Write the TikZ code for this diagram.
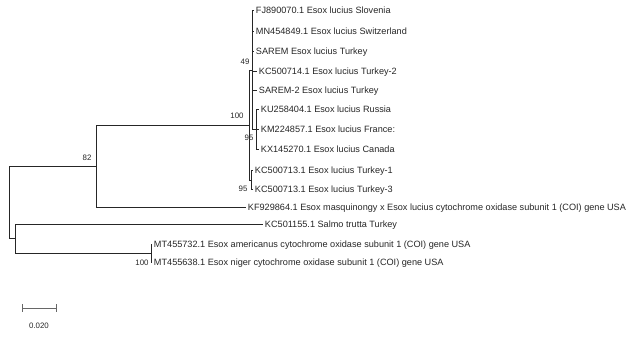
\documentclass[tikz,border=0pt]{standalone}
\usepackage{fontspec}
\setsansfont{Liberation Sans}
\usetikzlibrary{arrows.meta}
\definecolor{ink}{HTML}{262626}

\begin{document}
\begin{tikzpicture}[x=0.025cm,y=-0.025cm,font=\sffamily\fontsize{6.5}{7.5}\selectfont,text=ink,
  branch/.style={draw=ink,line width=.6pt},
  leaf/.style={anchor=mid west,inner sep=1.2pt},
  boot/.style={font=\sffamily\fontsize{5.6}{6.5}\selectfont,inner sep=0pt}]
  \useasboundingbox (0,0) rectangle (636,340);
  % inner nodes of the tree
  \coordinate (root) at (9,202);
  \coordinate (n82) at (96,166);
  \coordinate (n100) at (249,125);
  \coordinate (n49) at (252,70);
  \coordinate (nK) at (256,129);
  \coordinate (nT) at (251,180);
  \coordinate (nO) at (15,238);
  \coordinate (nMT) at (151,253);
  % leaves
  \node[leaf] (fj) at (254,10) {FJ890070.1 Esox lucius Slovenia};
  \node[leaf] (mn) at (254,31) {MN454849.1 Esox lucius Switzerland};
  \node[leaf] (sarem) at (254,51) {SAREM Esox lucius Turkey};
  \node[leaf] (kc14) at (257,71) {KC500714.1 Esox lucius Turkey-2};
  \node[leaf] (sarem2) at (257,90) {SAREM-2 Esox lucius Turkey};
  \node[leaf] (ku) at (259,109) {KU258404.1 Esox lucius Russia};
  \node[leaf] (km) at (259,129) {KM224857.1 Esox lucius France:};
  \node[leaf] (kx) at (259,149) {KX145270.1 Esox lucius Canada};
  \node[leaf] (kc1) at (253,170) {KC500713.1 Esox lucius Turkey-1};
  \node[leaf] (kc3) at (253,189) {KC500713.1 Esox lucius Turkey-3};
  \node[leaf] (kf) at (246,207) {KF929864.1 Esox masquinongy x Esox lucius cytochrome oxidase subunit 1 (COI) gene USA};
  \node[leaf] (salmo) at (263,224) {KC501155.1 Salmo trutta Turkey};
  \node[leaf] (mt32) at (152,244) {MT455732.1 Esox americanus cytochrome oxidase subunit 1 (COI) gene USA};
  \node[leaf] (mt38) at (152,262) {MT455638.1 Esox niger cytochrome oxidase subunit 1 (COI) gene USA};
  % branches
  \draw[branch] (root) |- (n82);
  \draw[branch] (root) |- (nO);
  \draw[branch] (n82) |- (n100);
  \draw[branch] (n82) |- (kf.mid west);
  \draw[branch] (n100) |- (n49);
  \draw[branch] (n100) |- (nT);
  \foreach \l in {fj,mn,sarem,kc14,sarem2}
    \draw[branch] (n49) |- (\l.mid west);
  \draw[branch] (n49) |- (nK);
  \foreach \l in {ku,km,kx}
    \draw[branch] (nK) |- (\l.mid west);
  \draw[branch] (nT) |- (kc1.mid west);
  \draw[branch] (nT) |- (kc3.mid west);
  \draw[branch] (nO) |- (salmo.mid west);
  \draw[branch] (nO) |- (nMT);
  \draw[branch] (nMT) |- (mt32.mid west);
  \draw[branch] (nMT) |- (mt38.mid west);
  % bootstrap values
  \node[boot] (b49) at (245,62) {49};
  \node[boot] (b100) at (237,116) {100};
  \node[boot] (b95k) at (249,138) {95};
  \node[boot] (b95t) at (243,189) {95};
  \node[boot] (b82) at (87,158) {82};
  \node[boot] (b100mt) at (142,263) {100};
  % scale bar
  \coordinate (sb1) at (22,308);
  \coordinate (sb2) at (57,308);
  \draw[draw=ink!70,line width=.5pt,{Bar[width=5pt]}-{Bar[width=5pt]}] (sb1) -- (sb2);
  \node[boot] (sbl) at (39,326) {0.020};
\end{tikzpicture}
\end{document}
